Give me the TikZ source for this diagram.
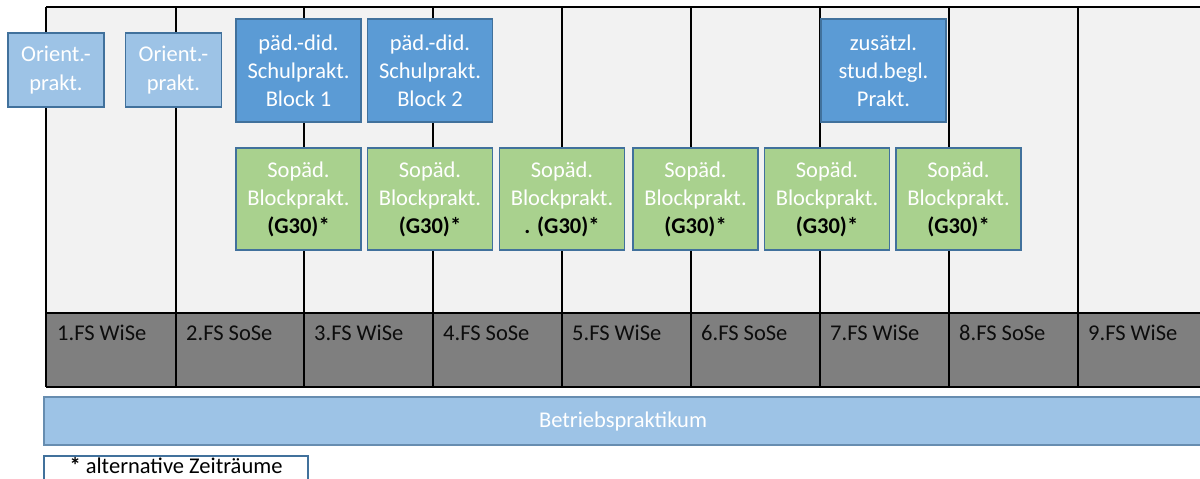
\documentclass[tikz,border=0pt]{standalone}
\usepackage{fontspec}
\setmainfont{Carlito}
\definecolor{lblue}{HTML}{9DC3E6}
\definecolor{mblue}{HTML}{5B9BD5}
\definecolor{lgreen}{HTML}{A9D18E}
\definecolor{bordb}{HTML}{41719C}
\definecolor{dgray}{HTML}{7F7F7F}
\definecolor{bggray}{HTML}{F2F2F2}
\definecolor{txtdark}{HTML}{0D0D0D}
\tikzset{
  txt/.style={font=\fontsize{22.5}{28}\selectfont},
  box/.style={txt, draw=bordb, line width=1.4pt, text=white, align=center, inner sep=0pt, anchor=center},
  orient/.style={box, fill=lblue, minimum width=96pt, minimum height=74pt, font=\fontsize{22.5}{29}\selectfont},
  schul/.style={box, fill=mblue, minimum width=125pt, minimum height=103pt},
  sopaed/.style={box, fill=lgreen, minimum width=125pt, minimum height=102pt},
  sem/.style={txt, text=txtdark, anchor=west, inner sep=0pt},
  grid/.style={line width=1.4pt, black},
}
\newcommand{\gthirty}{\textcolor{black}{\textbf{(G30)*}}}
\begin{document}
\begin{tikzpicture}[x=1pt,y=-1pt]
\useasboundingbox (0,0) rectangle (1200,479);
% background
\fill[bggray] (46,7) rectangle (1210,313);
\fill[dgray] (46,313) rectangle (1210,387);
% grid
\foreach \x in {46,176,304,433,562,691,820,949,1078}
  \draw[grid] (\x,7) -- (\x,387);
\draw[grid] (46,7) -- (1210,7);
\draw[grid] (46,313) -- (1210,313);
\draw[grid] (46,387) -- (1210,387);
% semester labels
\node[sem] (s1) at (57,333) {1.FS WiSe};
\node[sem] (s2) at (186,333) {2.FS SoSe};
\node[sem] (s3) at (314,333) {3.FS WiSe};
\node[sem] (s4) at (443,333) {4.FS SoSe};
\node[sem] (s5) at (572,333) {5.FS WiSe};
\node[sem] (s6) at (701,333) {6.FS SoSe};
\node[sem] (s7) at (830,333) {7.FS WiSe};
\node[sem] (s8) at (959,333) {8.FS SoSe};
\node[sem] (s9) at (1088,333) {9.FS WiSe};
% top boxes
\node[orient] (o1) at (56,70) {Orient.-\\prakt.};
\node[orient] (o2) at (173.5,70) {Orient.-\\prakt.};
\node[schul] (b1) at (298.5,70.5) {päd.-did.\\Schulprakt.\\Block 1};
\node[schul] (b2) at (430,70.5) {päd.-did.\\Schulprakt.\\Block 2};
\node[schul] (zs) at (883.5,70.5) {zusätzl.\\stud.begl.\\Prakt.};
% green boxes
\node[sopaed] (g1) at (298.5,199) {Sopäd.\\Blockprakt.\\\gthirty};
\node[sopaed] (g2) at (430,199) {Sopäd.\\Blockprakt.\\\gthirty};
\node[sopaed] (g3) at (562,199) {Sopäd.\\Blockprakt.\\\textcolor{black}{\textbf{.}} \gthirty};
\node[sopaed] (g4) at (695.5,199) {Sopäd.\\Blockprakt.\\\gthirty};
\node[sopaed] (g5) at (827,199) {Sopäd.\\Blockprakt.\\\gthirty};
\node[sopaed] (g6) at (958.5,199) {Sopäd.\\Blockprakt.\\\gthirty};
% Betriebspraktikum
\node[box, fill=lblue, draw=bordb!80, line width=1.2pt, minimum width=1158pt, minimum height=48pt] (bp) at (623,421) {\raisebox{-1.5pt}{Betriebspraktikum}};
% legend
\node[box, fill=white, text=black, line width=1.2pt, minimum width=264pt, minimum height=28pt] (leg) at (176,470) {\raisebox{10pt}{\textbf{*} alternative Zeiträume}};
\end{tikzpicture}
\end{document}
